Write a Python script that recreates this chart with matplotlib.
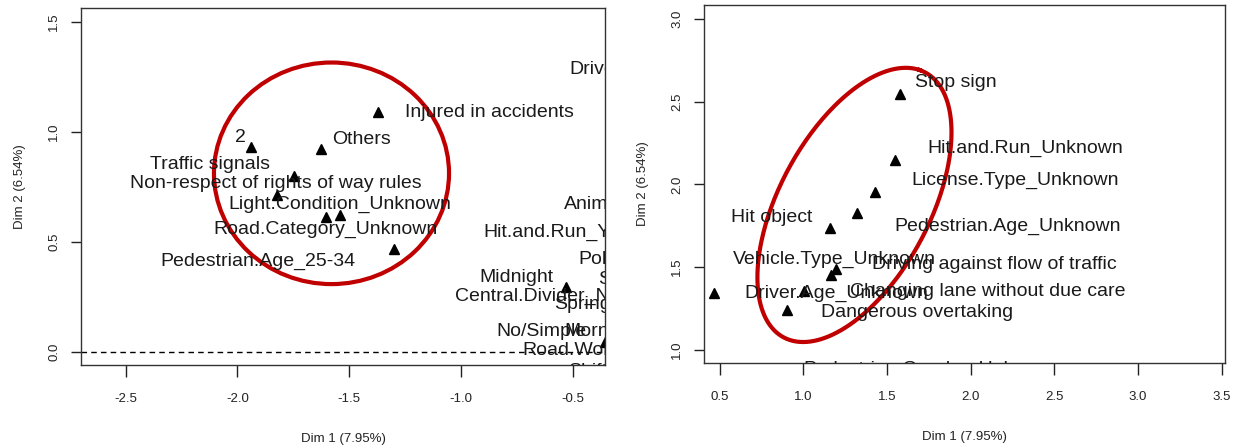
import numpy as np
import matplotlib.pyplot as plt
from matplotlib.patches import Ellipse

plt.rcParams['font.family'] = ['Liberation Sans', 'DejaVu Sans']

# left panel: category points (Dim 1, Dim 2)
left_x = [-1.372, -1.937, -1.626, -1.745, -1.825, -1.603, -1.540, -1.300, -0.529, -0.357]
left_y = [1.090, 0.930, 0.924, 0.802, 0.714, 0.612, 0.623, 0.467, 0.293, 0.046]

# left panel labels (left edge, vertical centre)
left_labels = ["Driver", "Injured in accidents", "2", "Others", "Traffic signals",
               "Non-respect of rights of way rules", "Light.Condition_Unknown",
               "Road.Category_Unknown", "Pedestrian.Age_25-34", "Animal",
               "Hit.and.Run_Y", "Police", "Summer", "Midnight", "Central.Divider_N",
               "Spring", "No/Simple", "Morning", "Road.Works", "Shift"]
left_lx = [-0.514, -1.250, -2.013, -1.576, -2.392, -2.482, -2.042, -2.108, -2.347, -0.538,
           -0.899, -0.475, -0.384, -0.917, -1.025, -0.583, -0.841, -0.538, -0.727, -0.520]
left_ly = [1.284, 1.087, 0.973, 0.965, 0.851, 0.764, 0.672, 0.555, 0.410, 0.669,
           0.544, 0.421, 0.327, 0.339, 0.254, 0.213, 0.091, 0.091, 0.005, -0.088]

# right panel
right_x = [1.577, 1.548, 1.427, 1.320, 1.158, 1.194, 1.166, 1.004, 0.904, 0.464]
right_y = [2.547, 2.148, 1.957, 1.826, 1.735, 1.487, 1.451, 1.356, 1.238, 1.346]

right_labels = ["Stop sign", "Hit.and.Run_Unknown", "License.Type_Unknown", "Hit object",
                "Pedestrian.Age_Unknown", "Vehicle.Type_Unknown",
                "Driving against flow of traffic", "Driver.Age_Unknown",
                "Changing lane without due care", "Dangerous overtaking",
                "Pedestrian.Gender_Unknown"]
right_lx = [1.669, 1.741, 1.646, 0.569, 1.546, 0.581, 1.408, 0.650, 1.277, 1.104, 0.999]
right_ly = [2.615, 2.215, 2.023, 1.800, 1.745, 1.548, 1.514, 1.342, 1.350, 1.226, 0.882]

W, H = 1237, 446
fig = plt.figure(figsize=(W / 100, H / 100), dpi=100)

def px_axes(l, r, t, b):
    return fig.add_axes([l / W, 1 - b / H, (r - l) / W, (b - t) / H])

ax1 = px_axes(81, 605, 8, 365)
ax2 = px_axes(704, 1225, 5, 363)

red = '#c00000'
lab_col = '#1a1a1a'

def style(ax):
    for s in ax.spines.values():
        s.set_linewidth(1.0)
        s.set_color('#333333')
    ax.tick_params(direction='out', length=8.5, width=1.0, labelsize=9.5, pad=12,
                   color='#222222', labelcolor='#222222')
    ax.tick_params(axis='y', length=7, labelrotation=90, pad=8)
    for t in ax.get_yticklabels():
        t.set_va('center')
    ax.set_xlabel('Dim 1 (7.95%)', fontsize=9.5, labelpad=20, color='#222222')
    ax.set_ylabel('Dim 2 (6.54%)', fontsize=9.5, labelpad=16, color='#222222')

# left
ax1.plot(left_x, left_y, '^', color='black', markersize=7)
for s, x, y in zip(left_labels, left_lx, left_ly):
    ax1.text(x, y, s, fontsize=14, color=lab_col, ha='left', va='center', clip_on=True)
ax1.axhline(0, color='black', lw=1, ls=(0, (4, 3)))
ax1.add_patch(Ellipse((-1.579, 0.812), 1.052, 1.008, fill=False, ec=red, lw=3))
ax1.set_xlim(-2.70, -0.355)
ax1.set_ylim(-0.06, 1.564)
ax1.set_xticks([-2.5, -2.0, -1.5, -1.0, -0.5])
ax1.set_yticks([0.0, 0.5, 1.0, 1.5])
ax1.set_xticklabels(['-2.5', '-2.0', '-1.5', '-1.0', '-0.5'])
ax1.set_yticklabels(['0.0', '0.5', '1.0', '1.5'])
style(ax1)

# right
ax2.plot(right_x, right_y, '^', color='black', markersize=7)
for s, x, y in zip(right_labels, right_lx, right_ly):
    ax2.text(x, y, s, fontsize=14, color=lab_col, ha='left', va='center', clip_on=True)
t = np.linspace(0, 2 * np.pi, 300)
cx, cy = 1.306, 1.876
ex = cx + 0.389 * np.cos(t) + 0.430 * np.sin(t)
ey = cy + 0.816 * np.cos(t) - 0.147 * np.sin(t)
ax2.plot(ex, ey, color=red, lw=3)
ax2.set_xlim(0.407, 3.52)
ax2.set_ylim(0.92, 3.085)
ax2.set_xticks([0.5, 1.0, 1.5, 2.0, 2.5, 3.0, 3.5])
ax2.set_yticks([1.0, 1.5, 2.0, 2.5, 3.0])
ax2.set_xticklabels(['0.5', '1.0', '1.5', '2.0', '2.5', '3.0', '3.5'])
ax2.set_yticklabels(['1.0', '1.5', '2.0', '2.5', '3.0'])
style(ax2)

fig.savefig('out.png', dpi=100)
